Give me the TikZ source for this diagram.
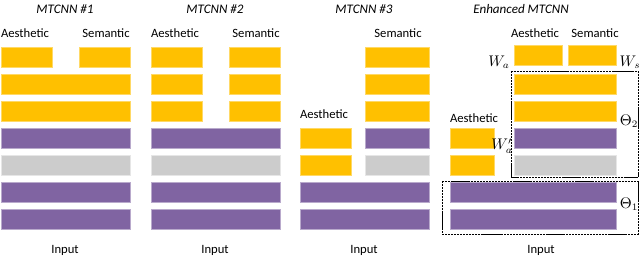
\documentclass[tikz,border=0pt]{standalone}
\usepackage{fontspec}
\setmainfont{Carlito}
\definecolor{barGold}{HTML}{FFC000}
\definecolor{barViolet}{HTML}{8064A2}
\definecolor{barGrey}{HTML}{CCCCCC}

\begin{document}
\begin{tikzpicture}[
        x=0.025cm, y=-0.025cm,
        font=\fontsize{9}{11}\selectfont,
        % block styles
        layer/.style={
            inner sep=0pt,
            line width=0.4pt,
            minimum height=0.5cm
        },
        gold bar/.style={layer, fill=barGold, draw=barGold!60!white},
        violet bar/.style={layer, fill=barViolet, draw=barViolet!55!white},
        grey bar/.style={layer, fill=barGrey, draw=barGrey!50!white},
        full/.style={minimum width=3.225cm},
        half/.style={minimum width=1.275cm},
        title label/.style={font=\fontsize{9.3}{11}\selectfont\itshape},
        weight label/.style={font=\fontsize{10.5}{12}\selectfont, inner sep=0pt},
        theta box/.style={draw=black, dash pattern=on 1.6pt off 0.5pt, line width=0.6pt}
    ]
    \useasboundingbox (0,0) rectangle (640,256);

    % --- ROW CENTRES ---
    \def\yA{57}
    \def\yB{84}
    \def\yC{111}
    \def\yD{138}
    \def\yE{165}
    \def\yF{192}
    \def\yG{219}
    \def\yTitle{9}
    \def\yHead{33}
    \def\yInput{250}

    % --- MTCNN #1 ---
    \node[title label] (titleOne) at (65,\yTitle) {MTCNN \#1};
    \node (aesOne) at (25,\yHead) {Aesthetic};
    \node (semOne) at (106,\yHead) {Semantic};
    \node[gold bar, half] (oneA1) at (26.5,\yA) {};
    \node[gold bar, half] (oneA2) at (104.5,\yA) {};
    \node[gold bar, full] (oneB) at (65.5,\yB) {};
    \node[gold bar, full] (oneC) at (65.5,\yC) {};
    \node[violet bar, full] (oneD) at (65.5,\yD) {};
    \node[grey bar, full] (oneE) at (65.5,\yE) {};
    \node[violet bar, full] (oneF) at (65.5,\yF) {};
    \node[violet bar, full] (oneG) at (65.5,\yG) {};
    \node (inputOne) at (65,\yInput) {Input};

    % --- MTCNN #2 ---
    \node[title label] (titleTwo) at (215,\yTitle) {MTCNN \#2};
    \node (aesTwo) at (175,\yHead) {Aesthetic};
    \node (semTwo) at (256,\yHead) {Semantic};
    \foreach \yRow/\name in {\yA/A, \yB/B, \yC/C} {
        \node[gold bar, half] (two\name1) at (176.5,\yRow) {};
        \node[gold bar, half] (two\name2) at (254.5,\yRow) {};
    }
    \node[violet bar, full] (twoD) at (215.5,\yD) {};
    \node[grey bar, full] (twoE) at (215.5,\yE) {};
    \node[violet bar, full] (twoF) at (215.5,\yF) {};
    \node[violet bar, full] (twoG) at (215.5,\yG) {};
    \node (inputTwo) at (215,\yInput) {Input};

    % --- MTCNN #3 ---
    \node[title label] (titleThree) at (364,\yTitle) {MTCNN \#3};
    \node (semThree) at (398,\yHead) {Semantic};
    \node (aesThree) at (324,114) {Aesthetic};
    \foreach \yRow/\name in {\yA/A, \yB/B, \yC/C} {
        \node[gold bar, minimum width=1.6cm] (three\name2) at (397,\yRow) {};
    }
    \node[gold bar, half] (threeD1) at (325.5,\yD) {};
    \node[violet bar, minimum width=1.6cm] (threeD2) at (397,\yD) {};
    \node[gold bar, half] (threeE1) at (325.5,\yE) {};
    \node[grey bar, minimum width=1.6cm] (threeE2) at (397,\yE) {};
    \node[violet bar, full] (threeF) at (364.5,\yF) {};
    \node[violet bar, full] (threeG) at (364.5,\yG) {};
    \node (inputThree) at (364,\yInput) {Input};

    % --- ENHANCED MTCNN ---
    \node[title label] (titleEnh) at (521,\yTitle) {Enhanced MTCNN};
    \node (aesEnh) at (535,\yHead) {Aesthetic};
    \node (semEnh) at (595,\yHead) {Semantic};
    \node (aesEnhLow) at (474,118) {Aesthetic};
    \node[gold bar, minimum width=1.2cm] (enhA1) at (538,55) {};
    \node[gold bar, minimum width=1.2cm] (enhA2) at (592,55) {};
    \node[gold bar, minimum width=2.55cm] (enhB) at (565,\yB) {};
    \node[gold bar, minimum width=2.55cm] (enhC) at (565,\yC) {};
    \node[violet bar, minimum width=2.55cm] (enhD) at (565,\yD) {};
    \node[grey bar, minimum width=2.55cm] (enhE) at (565,\yE) {};
    \node[gold bar, minimum width=1.1cm] (enhD1) at (472,\yD) {};
    \node[gold bar, minimum width=1.1cm] (enhE1) at (472,\yE) {};
    \node[violet bar, minimum width=4.15cm] (enhF) at (533,\yF) {};
    \node[violet bar, minimum width=4.15cm] (enhG) at (533,\yG) {};
    \node (inputEnh) at (541,\yInput) {Input};

    % shared parameter boxes
    \draw[theta box] (511,71) rectangle (638,177);
    \draw[theta box] (442,181) rectangle (638,234);

    % weights
    \node[weight label] (wAes) at (499,62) {$W_a$};
    \node[weight label] (wSem) at (630,62) {$W_s$};
    \node[weight label] (wAesLow) at (502,146) {$W'_a$};
    \node[weight label] (thetaTwo) at (629,121) {$\Theta_2$};
    \node[weight label] (thetaOne) at (629,204) {$\Theta_1$};
\end{tikzpicture}
\end{document}
